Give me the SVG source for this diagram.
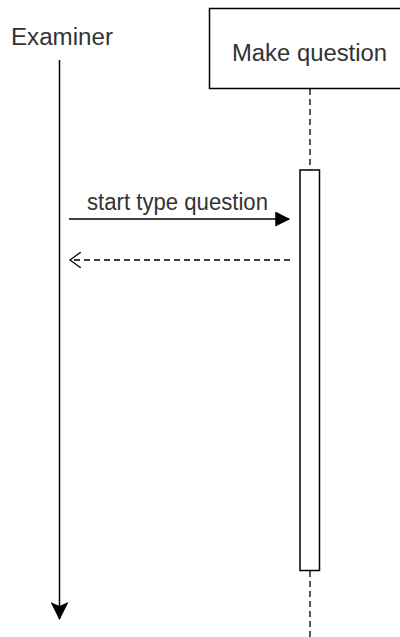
<svg xmlns="http://www.w3.org/2000/svg" width="400" height="637" viewBox="0 0 400 637">
<style>
text{font-family:"Liberation Sans",Arial,sans-serif;font-size:23px;fill:#333;}
.ln{stroke:#000;stroke-width:1.5;fill:none;}
.dash{stroke:#000;stroke-width:1.3;fill:none;stroke-dasharray:6 4;}
</style>
<defs>
<marker id="fill" viewBox="0 0 12 12" refX="11" refY="6" markerWidth="15" markerHeight="15" markerUnits="userSpaceOnUse" orient="auto"><path d="M0,0 L12,6 L0,12 Z" fill="#000"/></marker>
<marker id="open" viewBox="0 0 12 16" refX="11" refY="8" markerWidth="12" markerHeight="16" markerUnits="userSpaceOnUse" orient="auto"><path d="M0,0 L11,8 L0,16" fill="none" stroke="#000" stroke-width="1.3"/></marker>
<marker id="down" viewBox="0 0 18 18" refX="9" refY="17" markerWidth="18" markerHeight="18" markerUnits="userSpaceOnUse" orient="0"><path d="M0,0 L9,18 L18,0 L9,4 Z" fill="#000"/></marker>
</defs>
<g id="examiner">
<text x="11" y="45" textLength="102" lengthAdjust="spacingAndGlyphs">Examiner</text>
</g>
<g id="make-question">
<rect x="209.5" y="8.5" width="200" height="80" fill="#fff" stroke="#000" stroke-width="1.5"/>
<text x="232" y="61" textLength="155" lengthAdjust="spacingAndGlyphs">Make question</text>
</g>
<g id="connectors">
<line class="ln" x1="59.5" y1="60" x2="59.5" y2="619" marker-end="url(#down)"/>
<line class="dash" x1="310" y1="89" x2="310" y2="170"/>
<line class="dash" x1="310" y1="571" x2="310" y2="637"/>
<line class="ln" x1="69" y1="219" x2="289" y2="219" marker-end="url(#fill)"/>
<text x="87" y="210" font-size="22" textLength="181" lengthAdjust="spacingAndGlyphs">start type question</text>
<line class="dash" x1="290" y1="260" x2="70" y2="260" marker-end="url(#open)"/>
</g>
<g id="activation">
<rect x="300" y="170" width="19.5" height="400.5" fill="#fff" stroke="#000" stroke-width="1.5"/>
</g>
</svg>
